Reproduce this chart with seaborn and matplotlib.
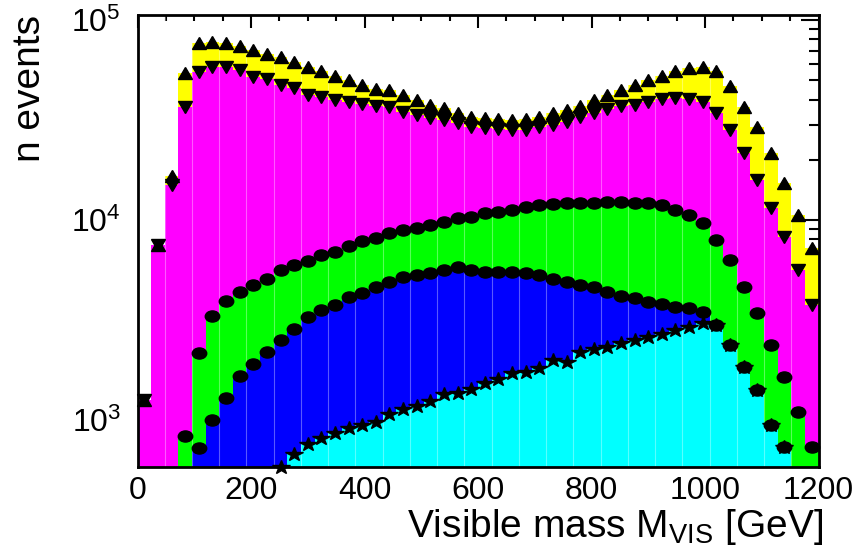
import numpy as np
import pandas as pd
import matplotlib
matplotlib.use("Agg")
import matplotlib.pyplot as plt
import seaborn as sns
from matplotlib.markers import MarkerStyle
from matplotlib.transforms import Affine2D
from matplotlib.ticker import (MultipleLocator, FixedLocator, FixedFormatter,
                               LogLocator, NullFormatter)

nan = np.nan

# ---- data: 50 bins of 24 GeV from 0 to 1200 (cumulative, overlaid) ----
bin_width = 24
x_min, x_max = 0, 1200

yellow = [1260, 7500, 16600, 54400, 77000, 77900, 76700, 74100, 70800, 68000,
          65000, 61700, 58200, 55600, 52500, 50100, 47300, 45200, 44700, 42200,
          39800, 37600, 36300, 34300, 32700, 32400, 32000, 31600, 32000, 32700,
          34300, 35500, 37200, 39800, 42200, 44700, 47300, 50100, 52500, 55600,
          57500, 58200, 55600, 46800, 36700, 29200, 21600, 15300, 10600, 7240]

magenta = [1260, 7500, 15000, 36800, 55000, 58200, 58200, 56200, 51900, 50700,
           47300, 45700, 42200, 41200, 39800, 38900, 38000, 37200, 36700, 34700,
           33500, 32400, 31600, 30500, 29200, 28800, 28500, 28200, 28200, 29200,
           29900, 31000, 32700, 34300, 36000, 37000, 37800, 38900, 40300, 40700,
           40300, 38900, 34300, 28200, 21600, 15800, 11500, 8220, 5620, 3750]

green = [nan, nan, nan, 830, 2170, 3300, 3940, 4370, 4730, 5070,
         5600, 5930, 6240, 6680, 6930, 7440, 7870, 8130, 8590, 8910,
         9090, 9440, 9800, 10200, 10400, 10800, 11000, 11200, 11600, 11900,
         12000, 12100, 12200, 12200, 12300, 12300, 12200, 12200, 11900, 11200,
         10600, 9660, 7940, 6310, 4630, 3420, 2370, 1640, 1100, 735]

blue = [nan, nan, nan, nan, 720, 1000, 1290, 1650, 1900, 2180,
        2520, 2850, 3280, 3550, 3760, 4120, 4320, 4600, 4900, 5190,
        5310, 5430, 5600, 5800, 5620, 5500, 5500, 5500, 5430, 5310,
        5070, 4900, 4730, 4630, 4370, 4170, 4070, 3890, 3800, 3680,
        3630, 3470, 2990, 2370, 1840, 1410, 944, 735, nan, nan]

cyan = [nan, nan, nan, nan, nan, nan, nan, nan, nan, nan,
        585, 676, 758, 810, 858, 909, 944, 977, 1070, 1130,
        1170, 1240, 1350, 1370, 1420, 1530, 1600, 1720, 1740, 1820,
        2000, 1950, 2180, 2260, 2310, 2430, 2510, 2600, 2700, 2820,
        2920, 3040, 2990, 2370, 1840, 1410, 944, 735, nan, nan]

x_ticks = [0, 200, 400, 600, 800, 1000, 1200]
y_ticks = [1e3, 1e4, 1e5]
y_tick_labels = [r"$\mathregular{10^{3}}$", r"$\mathregular{10^{4}}$", r"$\mathregular{10^{5}}$"]

# ---- style ----
sns.set_theme(style="white")
plt.rcParams["font.family"] = ["Liberation Sans", "DejaVu Sans"]
plt.rcParams["mathtext.fontset"] = "custom"
plt.rcParams["mathtext.rm"] = "Liberation Sans"
plt.rcParams["mathtext.it"] = "Liberation Sans:italic"
plt.rcParams["mathtext.bf"] = "Liberation Sans:bold"

fig = plt.figure(figsize=(8.59, 5.59), dpi=100)
ax = fig.add_axes([137.5 / 859, 1 - 466.5 / 559, 681 / 859, 451.5 / 559])

edges = np.arange(x_min, x_max + bin_width, bin_width)
centers = edges[:-1] + bin_width / 2

series = [
    (yellow, "#ffff00", "^"),
    (magenta, "#ff00ff", "v"),
    (green, "#00ff00", "o"),
    (blue, "#0000ff", "o"),
    (cyan, "#00ffff", "*"),
]

for vals, col, _ in series:
    df = pd.DataFrame({"mass": centers,
                       "n": np.nan_to_num(np.array(vals, dtype=float))})
    sns.histplot(data=df, x="mass", weights="n", binwidth=bin_width,
                 binrange=(x_min, x_max), element="step",
                 fill=True, color=col, alpha=1, linewidth=0, ax=ax)

# faint seams seen in the reference fill
for xv in np.arange(48, x_max, 48):
    ax.axvline(xv, color="white", alpha=0.35, lw=0.8, zorder=1.5)

def mk(m):
    return MarkerStyle(m, transform=Affine2D().scale(1.3, 1.0))

sizes = {"^": 8, "v": 8, "o": 8, "*": 10}
for vals, col, m in series:
    ax.plot(centers, vals, linestyle="none", marker=mk(m), markersize=sizes[m],
            color="black", clip_on=False, zorder=5)

ax.set_yscale("log")
ax.set_xlim(x_min, x_max)
ax.set_ylim(585, 1.06e5)

ax.xaxis.set_major_locator(FixedLocator(x_ticks))
ax.xaxis.set_minor_locator(MultipleLocator(50))
ax.yaxis.set_major_locator(FixedLocator(y_ticks))
ax.yaxis.set_major_formatter(FixedFormatter(y_tick_labels))
ax.yaxis.set_minor_locator(LogLocator(base=10, subs=np.arange(2, 10), numticks=20))
ax.yaxis.set_minor_formatter(NullFormatter())

ax.tick_params(axis="both", which="both", direction="in", top=True, right=True,
               color="black", width=1.5, labelcolor="black")
ax.tick_params(axis="x", which="major", length=9, pad=7, labelsize=23)
ax.tick_params(axis="x", which="minor", length=4)
ax.tick_params(axis="y", which="major", length=13, pad=12, labelsize=23)
ax.tick_params(axis="y", which="minor", length=7)

for sp in ax.spines.values():
    sp.set_color("black")
    sp.set_linewidth(2)
    sp.set_zorder(6)

ax.set_xlabel(r"Visible mass M$_{\mathregular{VIS}}$ [GeV]", fontsize=28,
              color="black", loc="right")
ax.xaxis.set_label_coords(1.007, -0.09)
ax.set_ylabel("n events", fontsize=28, color="black", loc="top")
ax.yaxis.set_label_coords(-0.131, 1.0)

fig.savefig("out.png", dpi=100)
